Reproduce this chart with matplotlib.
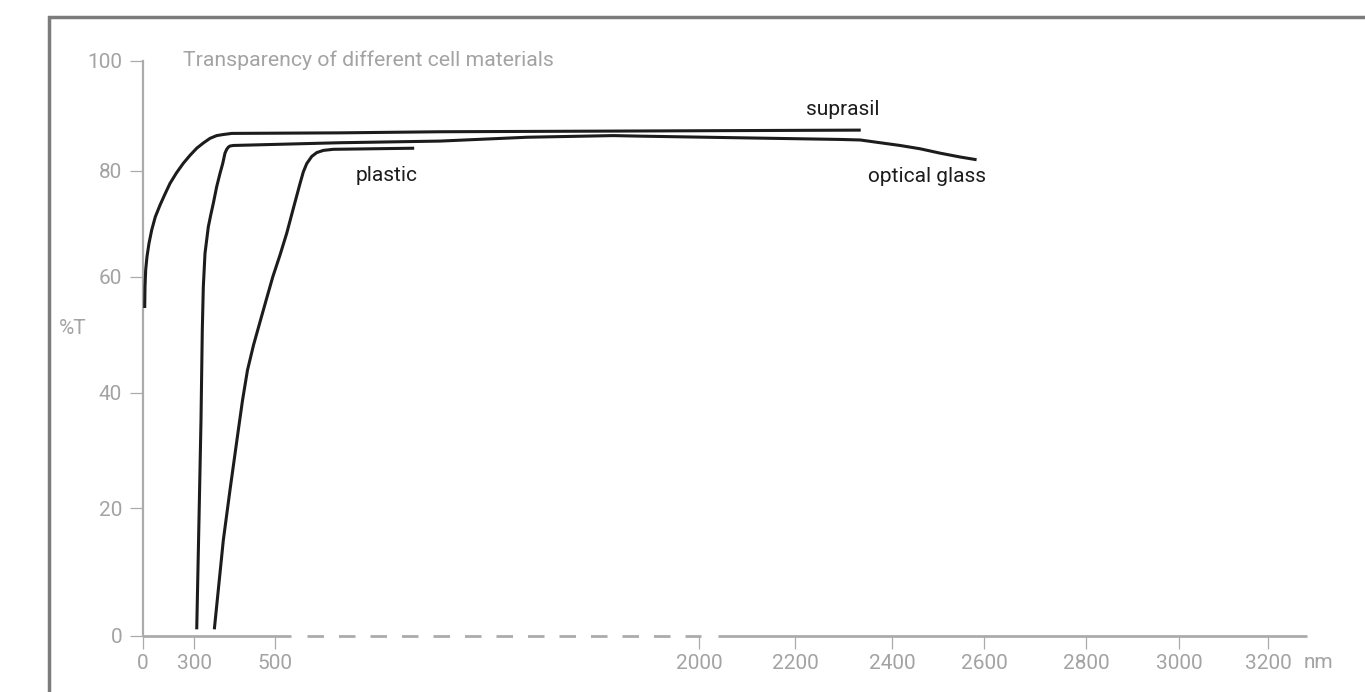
import numpy as np
import matplotlib
matplotlib.use("Agg")
import matplotlib.pyplot as plt
from matplotlib.patches import Rectangle

plt.rcParams['font.family'] = ['Roboto', 'DejaVu Sans']

# --- data -------------------------------------------------------------
x_ticks = [0, 300, 500, 2000, 2200, 2400, 2600, 2800, 3000, 3200]
x_tick_labels = [str(v) for v in x_ticks]
y_ticks = [0, 20, 40, 60, 80, 100]
y_tick_labels = [str(v) for v in y_ticks]

# transmission curves: wavelength in nm, transmission in %T
suprasil_nm = [11.6, 13.4, 17.4, 25, 36.6, 52.3, 73.3, 100.6, 129.7, 158.7, 196.5,
               236, 275, 306, 322.3, 339, 355.5, 372, 393, 730, 1083, 2335]
suprasil_t = [54.6, 58.3, 61.3, 63.8, 66.3, 68.8, 71.3, 73.5, 75.6, 77.6, 79.6,
              81.35, 82.8, 84.1, 85.05, 85.9, 86.4, 86.6, 86.8, 86.9, 87.1, 87.4]

glass_nm = [306, 311.6, 316.6, 319.8, 322.3, 326.5, 334.7, 340.6, 347, 355.5,
            363.7, 370.4, 376, 380.3, 384.4, 388.5, 396.8, 730, 1083, 1391,
            1695, 1790, 2085, 2292, 2334, 2374.7, 2416.7, 2460, 2503.7, 2547, 2583]
glass_t = [1.0, 18.2, 35.3, 50.8, 58.2, 64.4, 69.4, 71.6, 73.8, 77.0,
           79.5, 81.3, 83.2, 83.9, 84.3, 84.5, 84.6, 85.1, 85.4, 86.1,
           86.4, 86.3, 86.0, 85.7, 85.6, 85.1, 84.6, 84.0, 83.2, 82.5, 82.0]

plastic_nm = [349.6, 371.9, 388.5, 409, 419.5, 431.8, 446.7, 462.8, 478.2, 494.6,
              517.7, 541.4, 564.8, 588.5, 600.2, 612.2, 629.8, 647.5, 670.8, 706, 992]
plastic_t = [1.0, 15.0, 23.2, 33.5, 38.7, 43.9, 48.2, 52.2, 56.0, 60.0,
             64.1, 68.2, 72.9, 77.6, 79.8, 81.3, 82.6, 83.3, 83.7, 83.9, 84.1]

title = "Transparency of different cell materials"

# --- layout -------------------------------------------------------------
W, H, DPI = 1365, 692, 100
AX_LEFT, AX_RIGHT, AX_TOP, AX_BOTTOM = 142.7, 1306.7, 61.0, 635.7
X_MAX = 3286
# distances (px) of the tick marks from the axes origin: the axis is drawn
# piecewise, with a compressed section between 500 and 2000 nm
x_tick_px = [0, 51.6, 132.3, 556.6, 652.3, 749.6, 841.6, 943.3, 1036.6, 1125.6]
y_tick_px = [0, 127.4, 243.0, 359.0, 465.0, 574.7]

GREY = '#a3a3a3'
AXIS_GREY = '#ababab'
INK = '#1c1c1c'
FS = 15


def piecewise(src, dst):
    src = np.asarray(src, float)
    dst = np.asarray(dst, float)
    lo_slope = (dst[1] - dst[0]) / (src[1] - src[0])
    hi_slope = (dst[-1] - dst[-2]) / (src[-1] - src[-2])

    def f(v):
        v = np.asarray(v, float)
        out = np.interp(v, src, dst)
        out = np.where(v < src[0], dst[0] + (v - src[0]) * lo_slope, out)
        out = np.where(v > src[-1], dst[-1] + (v - src[-1]) * hi_slope, out)
        return out
    return f


fig = plt.figure(figsize=(W / DPI, H / DPI), dpi=DPI)
ax = fig.add_axes([AX_LEFT / W, 1 - AX_BOTTOM / H,
                   (AX_RIGHT - AX_LEFT) / W, (AX_BOTTOM - AX_TOP) / H])
ax.patch.set_alpha(0)

ax.set_xscale('function', functions=(piecewise(x_ticks, x_tick_px),
                                     piecewise(x_tick_px, x_ticks)))
ax.set_yscale('function', functions=(piecewise(y_ticks, y_tick_px),
                                     piecewise(y_tick_px, y_ticks)))
ax.set_xlim(0, X_MAX)
ax.set_ylim(0, 100)

# outer frame (open to the right and bottom edges)
fig.patches.append(Rectangle((48.8 / W, -0.1), 2.0, 1.1 - 16.7 / H,
                             transform=fig.transFigure, fill=False,
                             edgecolor='#7c7c7c', linewidth=2.5, zorder=0))

# spines / axis lines
for s in ('top', 'right', 'bottom'):
    ax.spines[s].set_visible(False)
ax.spines['left'].set_color(AXIS_GREY)
ax.spines['left'].set_linewidth(1.6)

axis_kw = dict(color=AXIS_GREY, linewidth=2.0, clip_on=False, zorder=1,
               solid_capstyle='butt', dash_capstyle='butt')
ax.plot([0, 555], [0, 0], **axis_kw)
ax.plot([612, 2004], [0, 0], dashes=(5.94, 5.4), **axis_kw)
ax.plot([2038, X_MAX], [0, 0], **axis_kw)

ax.set_xticks(x_ticks)
ax.set_xticklabels(x_tick_labels)
ax.set_yticks(y_ticks)
ax.set_yticklabels(y_tick_labels)
ax.minorticks_off()
ax.tick_params(axis='both', direction='out', length=9.4, width=0.9,
               color=AXIS_GREY, labelcolor=GREY, labelsize=FS)
ax.tick_params(axis='x', pad=4)
ax.tick_params(axis='y', pad=5.5)

# curves
line_kw = dict(color=INK, linewidth=2.2, solid_joinstyle='round',
               solid_capstyle='butt', zorder=3)
ax.plot(suprasil_nm, suprasil_t, **line_kw)
ax.plot(glass_nm, glass_t, **line_kw)
ax.plot(plastic_nm, plastic_t, **line_kw)

# curve labels
ax.text(2299, 91.1, 'suprasil', color=INK, fontsize=FS, ha='center', va='center')
ax.text(2475, 78.9, 'optical glass', color=INK, fontsize=FS, ha='center', va='center')
ax.text(895, 79.1, 'plastic', color=INK, fontsize=FS, ha='center', va='center')

ax.text(234, 100.2, title, color=GREY, fontsize=15.3, ha='left', va='center')
ax.text(-0.0601, 51, '%T', color=GREY, fontsize=FS, ha='center', va='center',
        transform=ax.get_yaxis_transform())
fig.text(1318 / W, 1 - 663 / H, 'nm', color=GREY, fontsize=FS,
         ha='center', va='center')

fig.savefig('out.png', dpi=DPI)
